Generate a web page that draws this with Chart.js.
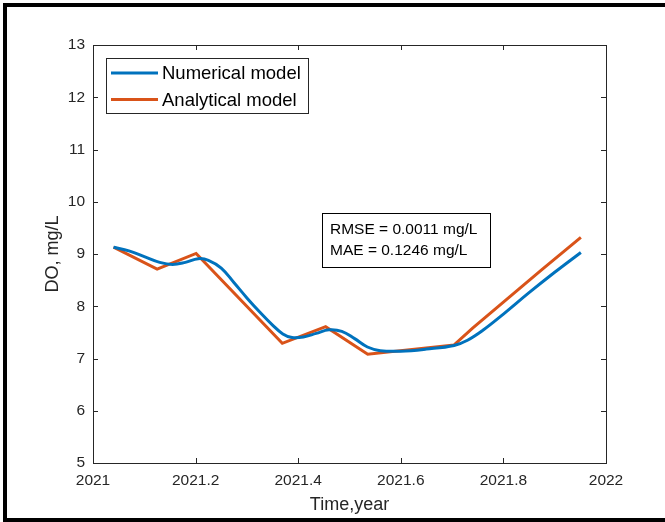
<!DOCTYPE html>
<html lang="en">
<head>
    <meta charset="UTF-8">
    <title>DO - numerical vs analytical model</title>
    <style>
        body {
            margin: 0;
            background: #fff;
            overflow: hidden;
        }
        /* black frame round the figure, right edge cut off like the original */
        .frame {
            position: absolute;
            left: 3px;
            top: 3px;
            width: 720px;
            height: 511px;
            border-left: 4px solid #000;
            border-top: 4px solid #000;
            border-bottom: 4px solid #000;
        }
        #doChart {
            position: absolute;
            left: 0;
            top: 0;
        }
    </style>
</head>
<body>
    <div class="frame"></div>
    <canvas id="doChart" width="665" height="522"></canvas>

    <script src="https://cdn.jsdelivr.net/npm/chart.js"></script>
    <script>
        // Numerical model (smooth curve)
        const numTime = [2021.04, 2021.07, 2021.10, 2021.13, 2021.155, 2021.18, 2021.205, 2021.225,
            2021.25, 2021.275, 2021.30, 2021.325, 2021.35, 2021.37, 2021.388, 2021.41, 2021.435, 2021.46,
            2021.485, 2021.51, 2021.535, 2021.56, 2021.60, 2021.65, 2021.704, 2021.73, 2021.76,
            2021.80, 2021.85, 2021.90, 2021.951];
        const numDO = [9.13, 9.06, 8.95, 8.84, 8.80, 8.84, 8.91, 8.88,
            8.73, 8.45, 8.16, 7.89, 7.64, 7.47, 7.40, 7.41, 7.48, 7.55,
            7.52, 7.38, 7.22, 7.15, 7.14, 7.18, 7.25, 7.35, 7.54,
            7.85, 8.26, 8.65, 9.03];

        // Analytical model (piecewise line)
        const anaTime = [2021.04, 2021.125, 2021.201, 2021.369, 2021.4535, 2021.5355, 2021.704,
            2021.74, 2021.80, 2021.875, 2021.951];
        const anaDO = [9.13, 8.71, 9.01, 7.29, 7.61, 7.08, 7.26, 7.58, 8.08, 8.70, 9.32];

        const xTicks = [2021, 2021.2, 2021.4, 2021.6, 2021.8, 2022];
        const yTicks = [5, 6, 7, 8, 9, 10, 11, 12, 13];
        const seriesNames = ['Numerical model', 'Analytical model'];
        const statLines = ['RMSE = 0.0011 mg/L', 'MAE = 0.1246 mg/L'];

        const FONT = "'Liberation Sans', Arial, sans-serif";
        const AXIS_COLOR = '#262626';

        Chart.defaults.font.family = FONT;
        Chart.defaults.font.size = 15.5;
        Chart.defaults.color = AXIS_COLOR;

        function toPoints(xs, ys) {
            return xs.map((x, i) => ({ x: x, y: ys[i] }));
        }

        // axes box + inward ticks on all four sides (matlab look)
        const boxTicks = {
            id: 'boxTicks',
            beforeDatasetsDraw(chart) {
                const { ctx, chartArea: a, scales } = chart;
                const len = 5;
                ctx.save();
                ctx.strokeStyle = AXIS_COLOR;
                ctx.lineWidth = 1;
                ctx.strokeRect(a.left + 0.5, a.top + 0.5, a.right - a.left, a.bottom - a.top);
                ctx.beginPath();
                xTicks.forEach(v => {
                    const px = Math.round(scales.x.getPixelForValue(v)) + 0.5;
                    ctx.moveTo(px, a.bottom);
                    ctx.lineTo(px, a.bottom - len);
                    ctx.moveTo(px, a.top);
                    ctx.lineTo(px, a.top + len);
                });
                yTicks.forEach(v => {
                    const py = Math.round(scales.y.getPixelForValue(v)) + 0.5;
                    ctx.moveTo(a.left, py);
                    ctx.lineTo(a.left + len, py);
                    ctx.moveTo(a.right, py);
                    ctx.lineTo(a.right - len, py);
                });
                ctx.stroke();
                ctx.restore();
            }
        };

        // legend box (top left) and the RMSE/MAE text box
        const boxes = {
            id: 'boxes',
            afterDraw(chart) {
                const { ctx, chartArea: a, scales } = chart;
                ctx.save();

                // legend
                const lx = a.left + 13, ly = a.top + 13;
                ctx.fillStyle = '#fff';
                ctx.fillRect(lx, ly, 202, 55);
                ctx.strokeStyle = AXIS_COLOR;
                ctx.lineWidth = 1;
                ctx.strokeRect(lx + 0.5, ly + 0.5, 202, 55);
                ctx.font = '18.5px ' + FONT;
                ctx.textBaseline = 'middle';
                ctx.textAlign = 'left';
                chart.data.datasets.forEach((ds, i) => {
                    const ry = ly + 15 + i * 26.5;
                    ctx.strokeStyle = ds.borderColor;
                    ctx.lineWidth = 3;
                    ctx.beginPath();
                    ctx.moveTo(lx + 5, ry);
                    ctx.lineTo(lx + 52, ry);
                    ctx.stroke();
                    ctx.fillStyle = '#000';
                    ctx.fillText(ds.label, lx + 56, ry + 1);
                });

                // stats box, anchored in data units
                const bx = Math.round(scales.x.getPixelForValue(2021.4465));
                const by = Math.round(scales.y.getPixelForValue(9.785));
                ctx.fillStyle = '#fff';
                ctx.fillRect(bx, by, 168, 54);
                ctx.strokeStyle = '#000';
                ctx.lineWidth = 1;
                ctx.strokeRect(bx + 0.5, by + 0.5, 168, 54);
                ctx.font = '15.5px ' + FONT;
                ctx.fillStyle = '#000';
                statLines.forEach((t, i) => {
                    ctx.fillText(t, bx + 8, by + 17 + i * 20.5);
                });

                ctx.restore();
            }
        };

        const ctx = document.getElementById('doChart').getContext('2d');
        const chart = new Chart(ctx, {
            type: 'line',
            data: {
                datasets: [{
                    label: seriesNames[0],
                    data: toPoints(numTime, numDO),
                    borderColor: '#0072BD',
                    borderWidth: 3,
                    pointRadius: 0,
                    tension: 0.4,
                    fill: false
                }, {
                    label: seriesNames[1],
                    data: toPoints(anaTime, anaDO),
                    borderColor: '#D95319',
                    borderWidth: 3,
                    pointRadius: 0,
                    tension: 0,
                    fill: false
                }]
            },
            options: {
                responsive: false,
                animation: false,
                layout: {
                    padding: { left: 0, top: 45, right: 59, bottom: 0 }
                },
                plugins: {
                    legend: { display: false },
                    tooltip: { enabled: false }
                },
                scales: {
                    x: {
                        type: 'linear',
                        min: 2021,
                        max: 2022,
                        afterBuildTicks: s => { s.ticks = xTicks.map(v => ({ value: v })); },
                        afterFit: s => { s.height = 59; },
                        grid: { display: false, drawTicks: false },
                        border: { display: false },
                        ticks: {
                            padding: 8,
                            maxRotation: 0,
                            autoSkip: false,
                            callback: v => String(Math.round(v * 10) / 10)
                        },
                        title: {
                            display: true,
                            text: 'Time,year',
                            font: { size: 18 },
                            color: AXIS_COLOR,
                            padding: { top: 0, bottom: 6 }
                        }
                    },
                    y: {
                        min: 5,
                        max: 13,
                        afterBuildTicks: s => { s.ticks = yTicks.map(v => ({ value: v })); },
                        afterFit: s => { s.width = 93; },
                        grid: { display: false, drawTicks: false },
                        border: { display: false },
                        ticks: { padding: 8, autoSkip: false },
                        title: {
                            display: true,
                            text: 'DO, mg/L',
                            font: { size: 18 },
                            color: AXIS_COLOR,
                            padding: { top: 42, bottom: 0 }
                        }
                    }
                }
            },
            plugins: [boxTicks, boxes]
        });
    </script>
</body>
</html>
